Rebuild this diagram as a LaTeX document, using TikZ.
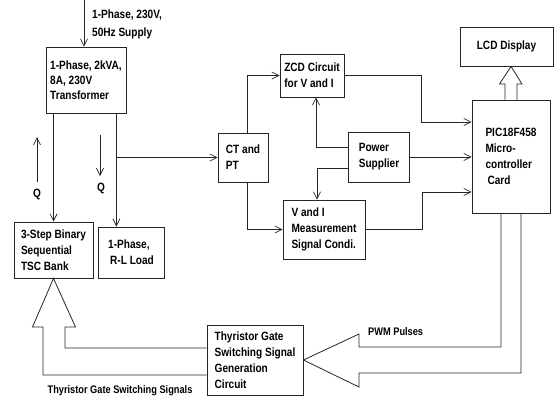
\documentclass[tikz,border=0pt]{standalone}
\usepackage{fontspec}
\setmainfont{Liberation Sans}[FakeStretch=0.84]
\usetikzlibrary{arrows.meta,calc}
\begin{document}
\begin{tikzpicture}[x=1pt,y=-1pt,
  every node/.style={font=\bfseries\fontsize{12}{16}\selectfont},
  box/.style={draw=black!85, line width=0.8pt, align=left, inner sep=0pt},
  lbl/.style={font=\bfseries\fontsize{11}{14}\selectfont, inner sep=0pt},
  arr/.style={draw=black!85, line width=0.7pt, -{Straight Barb[length=7pt,width=7pt,line width=0.7pt]}},
  hollow/.style={draw=black!85, line width=0.8pt, line join=miter}]
\useasboundingbox (0,0) rectangle (554,397);

% boxes
\node[box, minimum width=80pt, minimum height=66pt, font=\bfseries\fontsize{12}{15}\selectfont] (tr) at (86,80) {1-Phase, 2kVA,\\8A, 230V\\Transformer};
\node[box, minimum width=50pt, minimum height=49pt] (ct) at (243,157.5) {CT and\\PT};
\node[box, minimum width=64pt, minimum height=43pt] (zcd) at (312,75.5) {ZCD Circuit\\for V and I};
\node[box, minimum width=61pt, minimum height=50pt] (ps) at (379,157) {Power\\Supplier};
\node[box, minimum width=82pt, minimum height=59pt] (vi) at (324,229.5) {V and I\\Measurement\\Signal Condi.};
\node[box, minimum width=78pt, minimum height=113pt] (pic) at (511,156.5) {PIC18F458\\Micro-\\controller\\\hspace{2pt}Card};
\node[box, minimum width=93pt, minimum height=39pt, align=center] (lcd) at (506.5,46.5) {LCD Display};
\node[box, minimum width=79pt, minimum height=56pt] (tsc) at (53.5,250) {3-Step Binary\\Sequential\\TSC Bank};
\node[box, minimum width=66pt, minimum height=51pt] (ld) at (131,252.5) {1-Phase,\\\hspace{2pt}R-L Load};
\node[box, minimum width=96pt, minimum height=70pt] (thy) at (255,360) {Thyristor Gate\\Switching Signal\\Generation\\Circuit};

% supply
\coordinate (sup) at (84,0);
\draw[arr] (sup) -- (sup |- tr.north);
\node[anchor=north west, align=left, inner sep=0pt, font=\bfseries\fontsize{12}{18}\selectfont] (suptxt) at (92,10) {1-Phase, 230V,\\50Hz Supply};

% transformer outputs
\coordinate (a1) at ([xshift=8pt]tr.south west);
\coordinate (a2) at ([xshift=-10pt]tr.south east);
\draw[arr] (a1) -- (a1 |- tsc.north);
\draw[arr] (a2) -- (a2 |- ld.north);
\coordinate (a3) at (a2 |- ct.west);
\draw[arr] (a3) -- (ct.west);

% Q arrows
\coordinate (q1s) at (37,182);
\coordinate (q1e) at (37,137);
\draw[arr] (q1s) -- (q1e);
\node (q1) at (37,194) {Q};
\coordinate (q2s) at (100,135);
\coordinate (q2e) at (100,176);
\draw[arr] (q2s) -- (q2e);
\node (q2) at (101,188) {Q};

% CT outputs
\draw[arr] ([xshift=4pt]ct.north) |- (zcd.west);
\draw[arr] ([xshift=4pt]ct.south) |- (vi.west);

% power supplier
\draw[arr] ([yshift=10pt]ps.west) -| ([xshift=4pt]zcd.south);
\draw[arr] ([yshift=-11pt]ps.west) -| ([xshift=-7pt]vi.north);
\draw[arr] (ps.east) -- (ps.east -| pic.west);

% to PIC
\draw[arr] (zcd.east) -- ++(77,0) |- ([yshift=34.5pt]pic.west);
\draw[arr] (vi.east) -- ++(57,0) |- ([yshift=-35.5pt]pic.west);

% PIC -> LCD hollow arrow
\draw[hollow] ([xshift=-6pt]pic.north) -- (505,84) -- (499.5,84) -- ([xshift=4.5pt]lcd.south) -- (522,84) -- (517,84) -- ([xshift=6pt]pic.north);

% PWM hollow arrow
\draw[hollow] ([xshift=-10pt]pic.south) -- (501,347) -- (359,347) -- (359,334) -- (thy.east) -- (359,387) -- (359,373) -- (521,373) -- ([xshift=10pt]pic.south);
\node[lbl, anchor=west] (pwm) at (368,332) {PWM Pulses};

% thyristor -> TSC hollow arrow
\draw[hollow] ([yshift=-15pt]thy.west) -- (43,375) -- (43,327) -- (32.5,327) -- (tsc.south) -- (75.5,327) -- (65,327) -- (65,348) -- ([yshift=12pt]thy.west);
\node[lbl] (tgs) at (120,391) {Thyristor Gate Switching Signals};
\end{tikzpicture}
\end{document}
